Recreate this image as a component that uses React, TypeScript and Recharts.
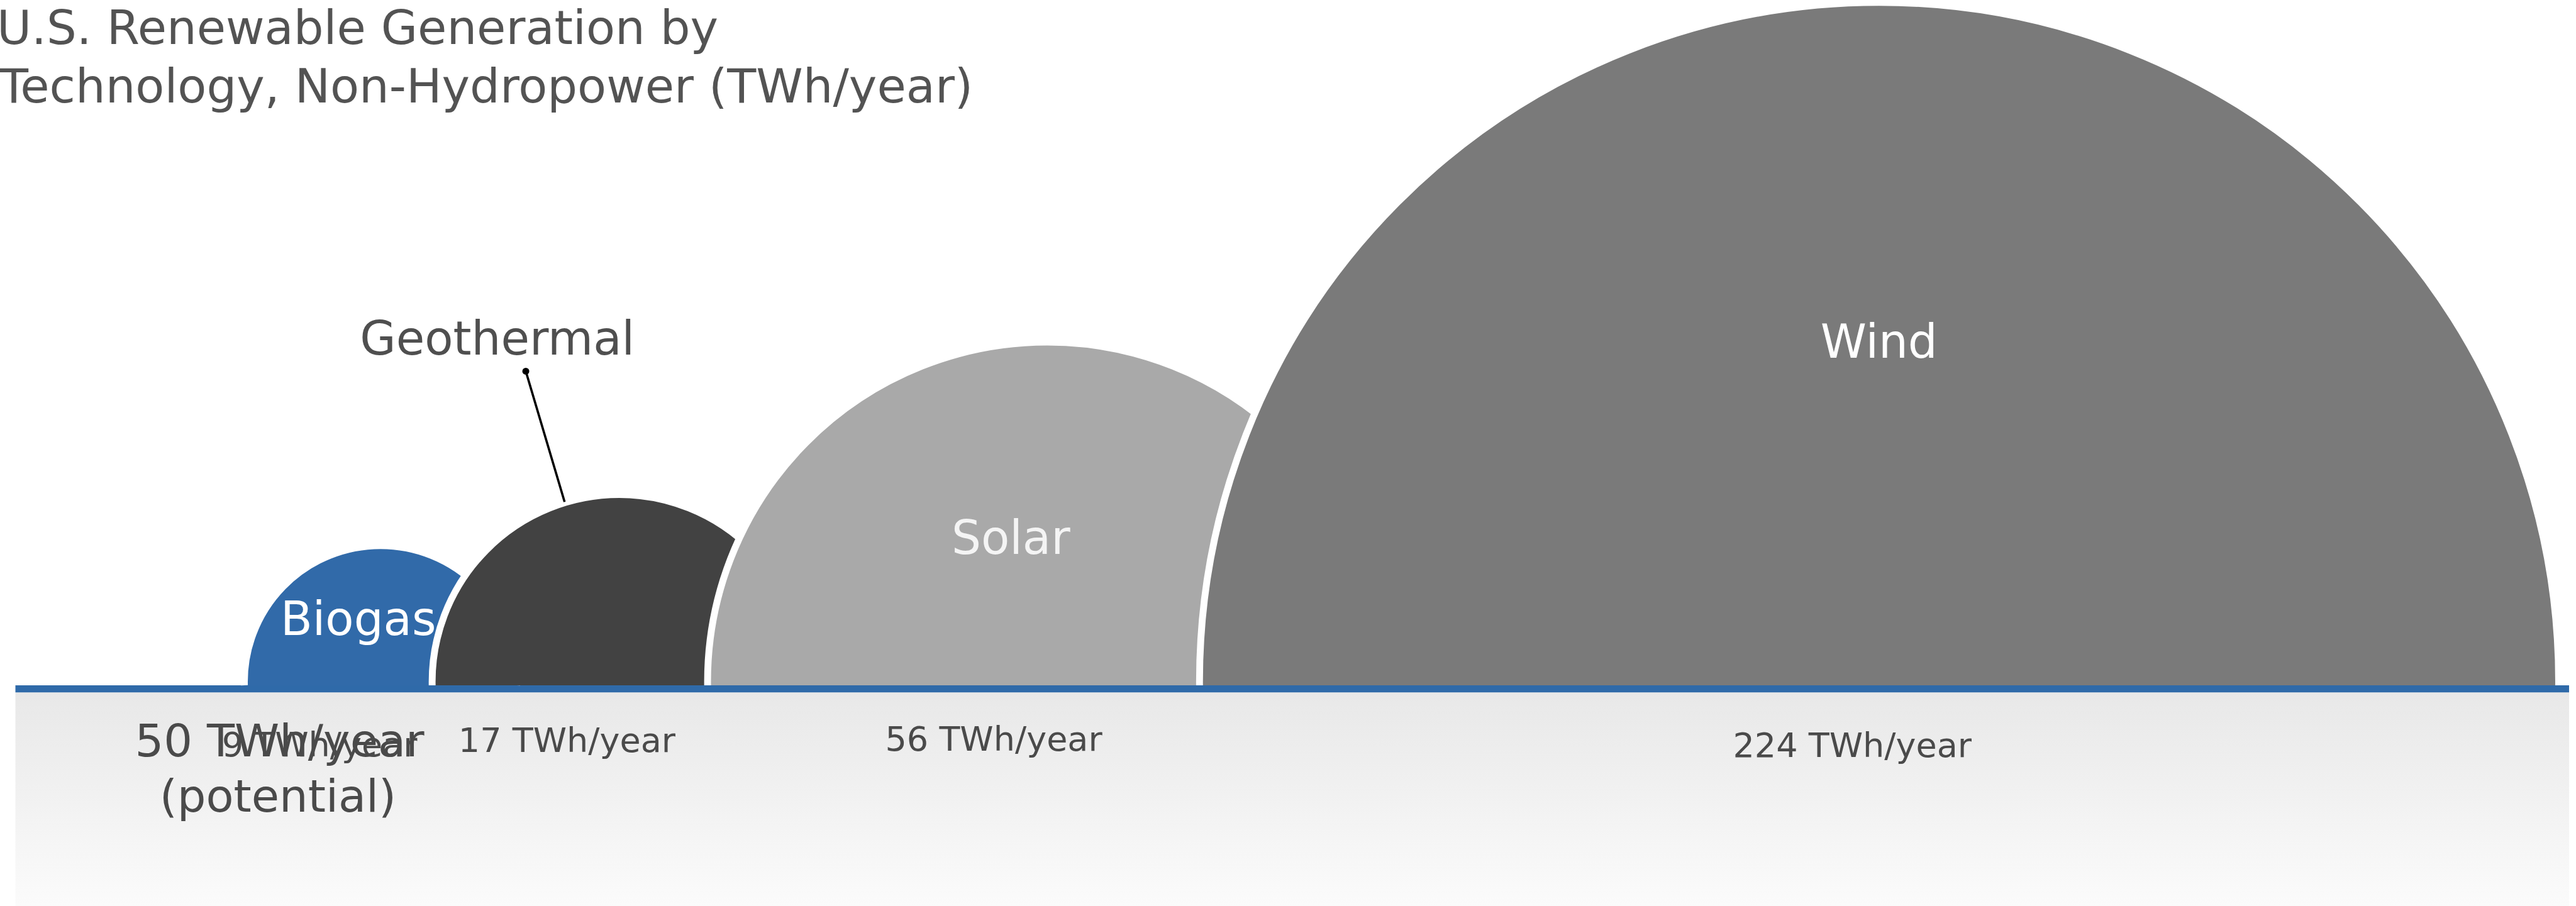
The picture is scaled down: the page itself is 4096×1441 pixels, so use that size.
import React from 'react';
import { ComposedChart, Scatter, XAxis, YAxis, ZAxis, ReferenceArea, ReferenceLine } from 'recharts';

if (typeof document !== 'undefined') {
  document.body.style.margin = '0';
}

// ---- data ----
const technologies = ['Biogas', 'Geothermal', 'Solar', 'Wind'];
const generation = [9, 17, 56, 224]; // TWh/year
const valueLabels = ['9 TWh/year', '17 TWh/year', '56 TWh/year', '224 TWh/year'];
const potentialLabels = ['50 TWh/year', '(potential)'];
const titleLines = ['U.S. Renewable Generation by', 'Technology, Non-Hydropower (TWh/year)'];

// ---- layout / style ----
const W = 4096;
const H = 1441;
const S = 0.907; // reference px -> page px
const K = 79.6; // reference px of radius per sqrt(TWh/year)
const BASE_Y = 1208 * S;
const Y_MIN = -(H - BASE_Y) / BASE_Y;
const LINE_W = 12.5 * S;
const LINE_HALF = LINE_W / 2 / BASE_Y;
const FONT = '"DejaVu Sans", sans-serif';

const colors = ['#316aa9', '#424242', '#a9a9a9', '#7a7a7a'];
const nameColors = ['#ffffff', '#4f4f4f', '#f4f4f4', '#ffffff'];
const domeCenters = [14.3, 23.65, 40.41, 72.98]; // % along the strip
// label anchors relative to dome centre on the baseline, reference px
const nameOffsets = [[-39, -94], [-214, -586], [-64, -237], [0, -581]];
const valueOffsets = [[-107, 118], [-92, 111], [-94, 108], [-47, 119]];
const potentialOffsets = [[-177, 118], [-180, 215]];
const calloutDot = [-164, -557];
const calloutEnd = [-96, -328];

const table = technologies.map((name, i) => ({
  index: i,
  name,
  value: generation[i],
  label: valueLabels[i],
  center: domeCenters[i],
  base: 0,
  fill: colors[i],
}));

const maxArea = Math.PI * (K * S) * (K * S) * Math.max(...generation);

const Dome = (props: any) => {
  const { cx, cy, payload } = props;
  const r = props.width ? props.width / 2 : Math.sqrt(props.size / Math.PI);
  const h = LINE_W / 2;
  const hw = Math.sqrt(Math.max(r * r - h * h, 0));
  return (
    <path
      d={`M${cx - hw},${cy - h} A${r},${r} 0 1 1 ${cx + hw},${cy - h}`}
      fill={payload.fill}
      stroke="#ffffff"
      strokeWidth={12 * S}
    />
  );
};

const DomeLabels = (props: any) => {
  const { cx, cy, payload } = props;
  const i = payload.index;
  const [nx, ny] = nameOffsets[i];
  const [vx, vy] = valueOffsets[i];
  return (
    <g fontFamily={FONT}>
      <text x={cx + nx * S} y={cy + ny * S} textAnchor="middle" fontSize={74} fill={nameColors[i]}>
        {payload.name}
      </text>
      {i === 1 && (
        <g>
          <line
            x1={cx + calloutDot[0] * S}
            y1={cy + calloutDot[1] * S}
            x2={cx + calloutEnd[0] * S}
            y2={cy + calloutEnd[1] * S}
            stroke="#000"
            strokeWidth={3.6}
          />
          <circle cx={cx + calloutDot[0] * S} cy={cy + calloutDot[1] * S} r={5.5} fill="#000" />
        </g>
      )}
      <text x={cx + vx * S} y={cy + vy * S} textAnchor="middle" fontSize={54} fill="#4a4a4a">
        {payload.label}
      </text>
      {i === 0 &&
        potentialLabels.map((t, j) => (
          <text
            key={t}
            x={cx + potentialOffsets[j][0] * S}
            y={cy + potentialOffsets[j][1] * S}
            textAnchor="middle"
            fontSize={72}
            fill="#4a4a4a"
          >
            {t}
          </text>
        ))}
    </g>
  );
};

export default function App() {
  return (
    <div style={{ position: 'relative', width: W, height: H, overflow: 'hidden', background: '#fff' }}>
      <ComposedChart width={W} height={H} data={table} margin={{ top: 0, right: 11, bottom: 0, left: 24.5 }}>
        <defs>
          <linearGradient id="band" x1="0" y1="0" x2="0" y2="1">
            <stop offset="0%" stopColor="#e8e8e8" />
            <stop offset="100%" stopColor="#fbfbfb" />
          </linearGradient>
        </defs>
        <XAxis type="number" dataKey="center" domain={[0, 100]} hide />
        <YAxis type="number" dataKey="base" domain={[Y_MIN, 1]} hide />
        <ZAxis type="number" dataKey="value" domain={[0, 'dataMax']} range={[0, maxArea]} />
        <ReferenceArea y1={Y_MIN} y2={-LINE_HALF} fill="url(#band)" fillOpacity={1} stroke="none" />
        <ReferenceLine y={0} stroke="#2f6aa9" strokeWidth={LINE_W} />
        <Scatter data={table} shape={Dome} isAnimationActive={false} legendType="none" />
        <Scatter data={table} shape={DomeLabels} isAnimationActive={false} legendType="none" />
      </ComposedChart>
      <svg width={W} height={200} style={{ position: 'absolute', left: 0, top: 0 }}>
        <g fontFamily={FONT} fontSize={75.3} fill="#535353">
          <text x={-5} y={70}>{titleLines[0]}</text>
          <text x={-1} y={162.5}>{titleLines[1]}</text>
        </g>
      </svg>
    </div>
  );
}
